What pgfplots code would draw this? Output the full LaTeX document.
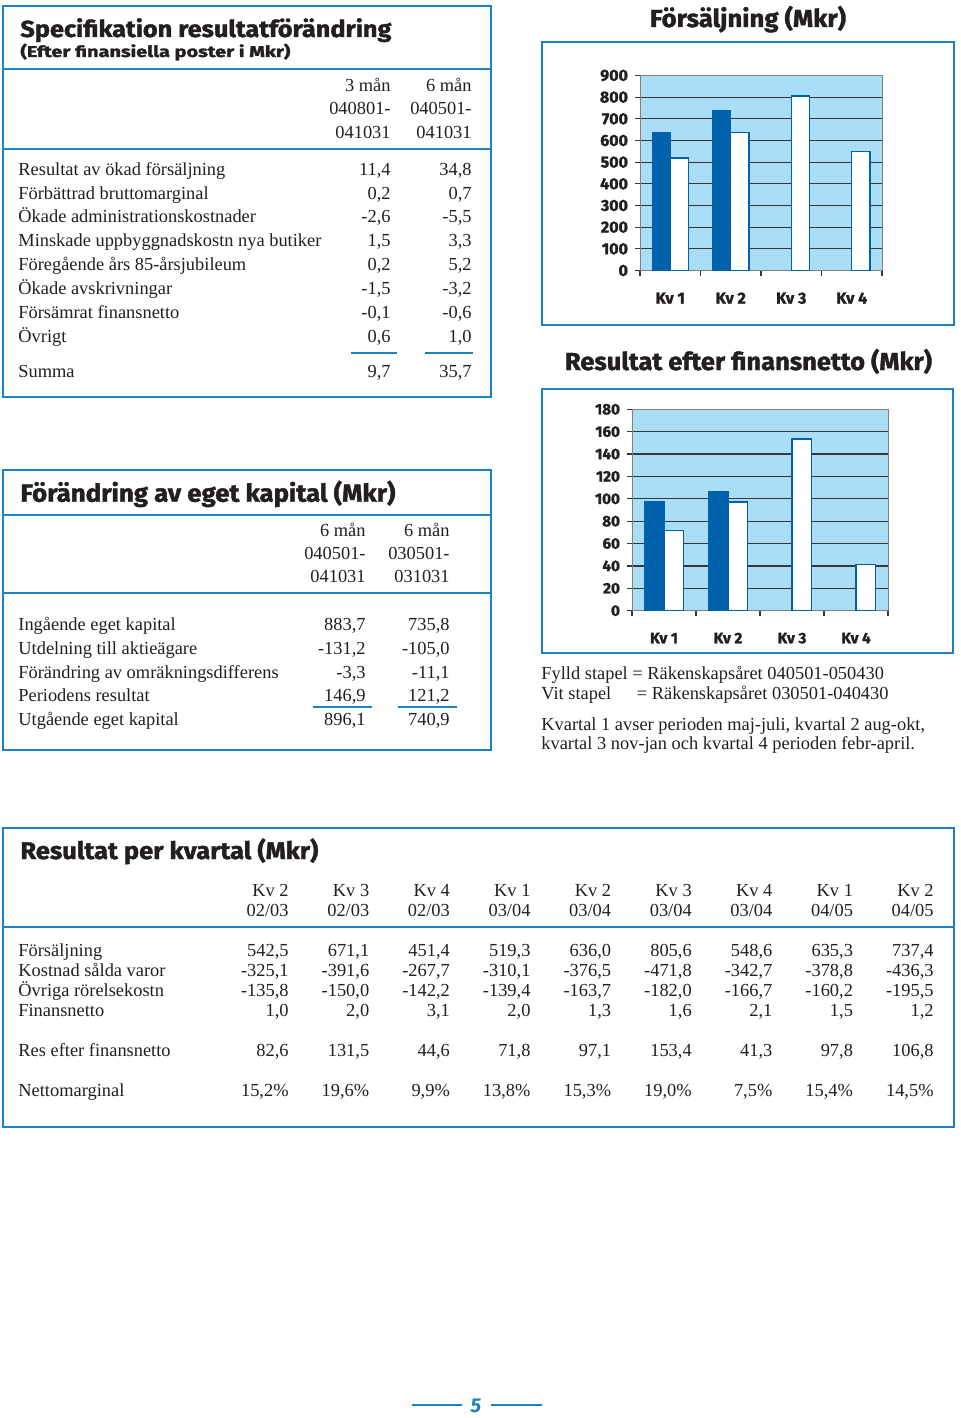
\documentclass[border=0pt]{standalone}
\usepackage{fontspec}
\setmainfont{Liberation Serif}
\newfontfamily\hd{Fira Sans}[BoldFeatures={FakeBold=1.5}]
\usepackage{pgfplots}
\pgfplotsset{compat=1.18}
\usepackage{graphicx}

\definecolor{boxblue}{RGB}{28,128,196}
\definecolor{barblue}{RGB}{0,98,172}
\definecolor{bgblue}{RGB}{170,222,247}
\definecolor{gridgray}{RGB}{55,55,55}
\definecolor{txt}{RGB}{35,31,32}

\newcommand\tf{\fontsize{9.2}{11}\selectfont}
\newcommand\fitw[2]{\resizebox{#1}{\height}{#2}}
\newcommand\hdf[1]{\hd\bfseries\fontsize{#1}{#1}\selectfont}
\newcommand\trow[6]{%
  \node[anchor=base west] at (18,#1) {\tf #2};
  \node[anchor=base east] at (#5,#1) {\tf #3};
  \node[anchor=base east] at (#6,#1) {\tf #4};}
\newcommand\qrow[2]{%
  \foreach \v [count=\i from 0] in {#2} {\node[anchor=base east] at ({289+80.625*\i},#1) {\tf\v};}}

\pgfplotsset{
  kvchart/.style={
    scale only axis,
    anchor=south west,
    xmin=-0.5, xmax=3.5, ymin=0,
    xtick={-0.5,0.5,1.5,2.5,3.5},
    xticklabels={Kv 1,Kv 2,Kv 3,Kv 4},
    x tick label as interval,
    tick pos=left,
    tick align=outside,
    major tick length=2.5pt,
    tick style={draw=gridgray, line width=0.6pt},
    ymajorgrids,
    grid style={draw=gridgray, line width=0.65pt},
    axis line style={draw=gray, line width=0.5pt},
    axis background/.style={fill=bgblue},
    ybar=0pt, bar width=0.3,
    xticklabel style={yshift=-5pt},
    /pgf/number format/assume math mode=true,
    /pgf/number format/1000 sep={},
  }
}

\begin{document}
\begin{tikzpicture}
\begin{scope}[x=0.5pt,y=-0.5pt]
\path[use as bounding box, fill=white] (0,0) rectangle (960,1418);
\end{scope}

% ---- Chart 1: Försäljning
\begin{axis}[kvchart, at={(320pt,-135.25pt)}, width=121pt, height=97.5pt,
  ymax=900, ytick={0,100,...,900},
  ticklabel style={font=\hdf{8}, text=txt}]
\addplot[fill=barblue, draw=barblue] coordinates {(0,635.3) (1,737.4)};
\addplot[fill=white, draw=barblue, line width=0.6pt] coordinates {(0,519.3) (1,636.0) (2,805.6) (3,548.6)};
\end{axis}

% ---- Chart 2: Resultat efter finansnetto
\begin{axis}[kvchart, at={(316pt,-305.35pt)}, width=128pt, height=100.7pt,
  ymax=180, ytick={0,20,...,180},
  ticklabel style={font=\hdf{7.6}, text=txt}]
\addplot[fill=barblue, draw=barblue] coordinates {(0,97.8) (1,106.8)};
\addplot[fill=white, draw=barblue, line width=0.6pt] coordinates {(0,71.8) (1,97.1) (2,153.4) (3,41.3)};
\end{axis}

\begin{scope}[x=0.5pt,y=-0.5pt, every node/.style={inner sep=0pt, text=txt}]
% boxes
\draw[boxblue, line width=1.2pt] (3,6) rectangle (491,397);
\draw[boxblue, line width=1.2pt] (3,69) -- (491,69) (3,149) -- (491,149);
\draw[boxblue, line width=1.2pt] (3,470) rectangle (491,750);
\draw[boxblue, line width=1.2pt] (3,515) -- (491,515) (3,593) -- (491,593);
\draw[boxblue, line width=1.2pt] (542,42) rectangle (954,325);
\draw[boxblue, line width=1.2pt] (542,389) rectangle (953,653);
\draw[boxblue, line width=1.2pt] (3,828) rectangle (954,1127);
\draw[boxblue, line width=1.2pt] (3,927) -- (954,927);

% ---- Specifikation
\node[anchor=base west] at (20,37) {\fitw{185.5pt}{\hdf{11.6}Specifikation resultatförändring}};
\node[anchor=base west] at (20,57) {\fitw{135pt}{\hdf{7.8}(Efter finansiella poster i Mkr)}};
\node[anchor=base east] at (391,92) {\tf 3 mån};
\node[anchor=base east] at (472,92) {\tf 6 mån};
\node[anchor=base east] at (391,115) {\tf 040801-};
\node[anchor=base east] at (472,115) {\tf 040501-};
\node[anchor=base east] at (391,139) {\tf 041031};
\node[anchor=base east] at (472,139) {\tf 041031};
\trow{175.5}{Resultat av ökad försäljning}{11,4}{34,8}{391}{472}
\trow{199.3}{Förbättrad bruttomarginal}{0,2}{0,7}{391}{472}
\trow{222.7}{Ökade administrationskostnader}{-2,6}{-5,5}{391}{472}
\trow{246.7}{Minskade uppbyggnadskostn nya butiker}{1,5}{3,3}{391}{472}
\trow{270.7}{Föregående års 85-årsjubileum}{0,2}{5,2}{391}{472}
\trow{294.7}{Ökade avskrivningar}{-1,5}{-3,2}{391}{472}
\trow{318.3}{Försämrat finansnetto}{-0,1}{-0,6}{391}{472}
\trow{342.3}{Övrigt}{0,6}{1,0}{391}{472}
\draw[boxblue, line width=1pt] (351,352.7) -- (397,352.7) (425,352.7) -- (473,352.7);
\trow{377.3}{Summa}{9,7}{35,7}{391}{472}

% ---- Förändring av eget kapital
\node[anchor=base west] at (20,501.7) {\fitw{187.5pt}{\hdf{12.3}Förändring av eget kapital (Mkr)}};
\node[anchor=base east] at (366,536) {\tf 6 mån};
\node[anchor=base east] at (450,536) {\tf 6 mån};
\node[anchor=base east] at (366,559) {\tf 040501-};
\node[anchor=base east] at (450,559) {\tf 030501-};
\node[anchor=base east] at (366,582.7) {\tf 041031};
\node[anchor=base east] at (450,582.7) {\tf 031031};
\trow{630.7}{Ingående eget kapital}{883,7}{735,8}{366}{450}
\trow{654.3}{Utdelning till aktieägare}{-131,2}{-105,0}{366}{450}
\trow{678.3}{Förändring av omräkningsdifferens}{-3,3}{-11,1}{366}{450}
\trow{701.7}{Periodens resultat}{146,9}{121,2}{366}{450}
\draw[boxblue, line width=1pt] (313,707) -- (372,707) (398,707) -- (457,707);
\trow{725.7}{Utgående eget kapital}{896,1}{740,9}{366}{450}

% ---- chart titles
\node[anchor=base] at (748,27) {\fitw{98pt}{\hdf{12.3}Försäljning (Mkr)}};
\node[anchor=base] at (748.5,370) {\fitw{183.5pt}{\hdf{12.3}Resultat efter finansnetto (Mkr)}};

% ---- legend text
\node[anchor=base west] at (541,679) {\tf Fylld stapel = Räkenskapsåret 040501-050430};
\node[anchor=base west] at (541,699) {\tf\makebox[0pt][l]{Vit stapel}\phantom{Fylld stapel\ \ }= Räkenskapsåret 030501-040430};
\node[anchor=base west] at (541,730) {\tf Kvartal 1 avser perioden maj-juli, kvartal 2 aug-okt,};
\node[anchor=base west] at (541,749) {\tf kvartal 3 nov-jan och kvartal 4 perioden febr-april.};

% ---- Resultat per kvartal
\node[anchor=base west] at (20,859) {\fitw{149pt}{\hdf{12}Resultat per kvartal (Mkr)}};
\qrow{896.7}{Kv 2,Kv 3,Kv 4,Kv 1,Kv 2,Kv 3,Kv 4,Kv 1,Kv 2}
\qrow{916}{02/03,02/03,02/03,03/04,03/04,03/04,03/04,04/05,04/05}
\node[anchor=base west] at (18,956.7) {\tf Försäljning};
\qrow{956.7}{{542,5},{671,1},{451,4},{519,3},{636,0},{805,6},{548,6},{635,3},{737,4}}
\node[anchor=base west] at (18,976.7) {\tf Kostnad sålda varor};
\qrow{976.7}{{-325,1},{-391,6},{-267,7},{-310,1},{-376,5},{-471,8},{-342,7},{-378,8},{-436,3}}
\node[anchor=base west] at (18,996.7) {\tf Övriga rörelsekostn};
\qrow{996.7}{{-135,8},{-150,0},{-142,2},{-139,4},{-163,7},{-182,0},{-166,7},{-160,2},{-195,5}}
\node[anchor=base west] at (18,1016.7) {\tf Finansnetto};
\qrow{1016.7}{{1,0},{2,0},{3,1},{2,0},{1,3},{1,6},{2,1},{1,5},{1,2}}
\node[anchor=base west] at (18,1056) {\tf Res efter finansnetto};
\qrow{1056}{{82,6},{131,5},{44,6},{71,8},{97,1},{153,4},{41,3},{97,8},{106,8}}
\node[anchor=base west] at (18,1096) {\tf Nettomarginal};
\qrow{1096}{{15,2\%},{19,6\%},{9,9\%},{13,8\%},{15,3\%},{19,0\%},{7,5\%},{15,4\%},{14,5\%}}

% ---- page number
\draw[boxblue, line width=1.2pt] (412,1405) -- (462,1405) (491,1405) -- (542,1405);
\node[anchor=base, text=boxblue] at (476,1412) {\hd\bfseries\itshape\fontsize{10}{10}\selectfont 5};
\end{scope}
\end{tikzpicture}
\end{document}
